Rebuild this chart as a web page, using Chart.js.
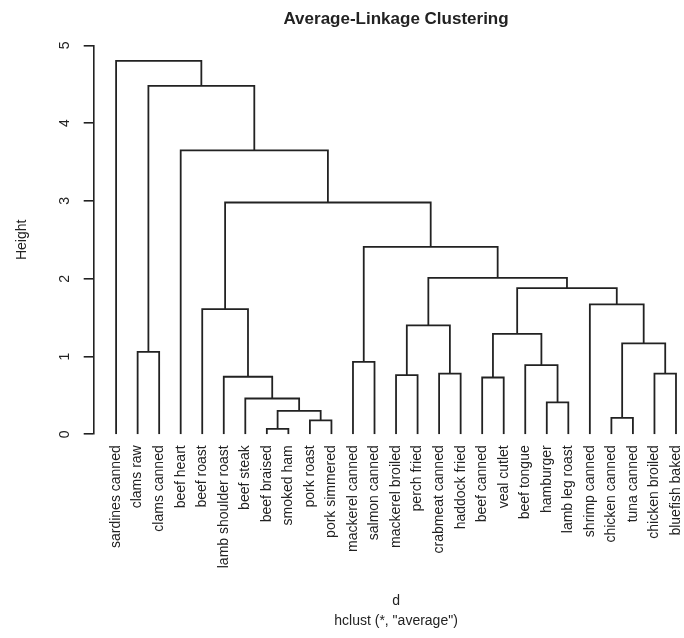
<!DOCTYPE html>
<html>
<head>
<meta charset="utf-8">
<script src="https://cdn.jsdelivr.net/npm/chart.js@4"></script>
<style>
  html, body { margin: 0; padding: 0; overflow: hidden; background: #fff; }
</style>
</head>
<body>
<canvas id="dendro" width="704" height="638"></canvas>
<script>
// leaves, left to right as they hang in the tree
const leaves = [
  "sardines canned", "clams raw", "clams canned", "beef heart", "beef roast",
  "lamb shoulder roast", "beef steak", "beef braised", "smoked ham", "pork roast",
  "pork simmered", "mackerel canned", "salmon canned", "mackerel broiled", "perch fried",
  "crabmeat canned", "haddock fried", "beef canned", "veal cutlet", "beef tongue",
  "hamburger", "lamb leg roast", "shrimp canned", "chicken canned", "tuna canned",
  "chicken broiled", "bluefish baked"
];

// merge steps like R's hclust: negative = leaf number, positive = earlier step
const merges = [
  [-8, -9], [-10, -11], [-24, -25], [1, 2], [-21, -22], [-7, 4], [-18, -19],
  [-6, 6], [-14, -15], [-16, -17], [-26, -27], [-20, 5], [-12, -13], [-2, -3],
  [3, 11], [7, 12], [9, 10], [-5, 8], [-23, 15], [16, 19], [17, 20], [13, 21],
  [18, 22], [-4, 23], [14, 24], [-1, 25]
];
const heights = [
  0.07, 0.18, 0.21, 0.30, 0.41, 0.46, 0.73, 0.74, 0.76, 0.78, 0.78, 0.89, 0.93,
  1.06, 1.17, 1.29, 1.40, 1.61, 1.67, 1.88, 2.01, 2.41, 2.98, 3.65, 4.48, 4.80
];
const yTicks = [0, 1, 2, 3, 4, 5];

// build the bracket paths from the merge table
const mergeX = [];
const segments = [];
merges.forEach(([a, b], i) => {
  const xa = a < 0 ? -a - 1 : mergeX[a - 1];
  const xb = b < 0 ? -b - 1 : mergeX[b - 1];
  const ha = a < 0 ? 0 : heights[a - 1];
  const hb = b < 0 ? 0 : heights[b - 1];
  const h = heights[i];
  segments.push({x: xa, y: ha}, {x: xa, y: h}, {x: xb, y: h}, {x: xb, y: hb}, {x: xb, y: null});
  mergeX.push((xa + xb) / 2);
});

Chart.defaults.font.family = "'Liberation Sans', Arial, sans-serif";
Chart.defaults.color = "#000";

const ctx = document.getElementById("dendro");

new Chart(ctx, {
  type: "line",
  data: {
    datasets: [{
      data: segments,
      borderColor: "#222",
      borderWidth: 1.8,
      pointRadius: 0,
      spanGaps: false,
      tension: 0,
      fill: false
    }]
  },
  options: {
    responsive: false,
    animation: false,
    layout: { padding: { top: 0, right: 1, bottom: 0, left: 0 } },
    plugins: {
      legend: { display: false },
      tooltip: { enabled: false },
      title: {
        display: true,
        fullSize: false,
        text: "Average-Linkage Clustering",
        color: "#222",
        font: { size: 17, weight: "bold" },
        padding: { top: 9, bottom: 16 }
      }
    },
    scales: {
      x: {
        type: "linear",
        min: -1.04,
        max: leaves.length - 1 + 1.04,
        grid: { display: false, drawTicks: false },
        border: { display: false },
        afterBuildTicks: (s) => { s.ticks = leaves.map((_, i) => ({ value: i })); },
        afterFit: (s) => { s.height = 203.7; },
        ticks: {
          autoSkip: false,
          minRotation: 90,
          maxRotation: 90,
          padding: 11,
          color: "#222",
          font: { size: 14 },
          callback: (v) => leaves[v]
        },
        title: {
          display: true,
          text: ["d", 'hclust (*, "average")'],
          color: "#222",
          font: { size: 14, lineHeight: "20px" },
          padding: { top: 0, bottom: 7 }
        }
      },
      y: {
        min: 0,
        max: 5,
        afterBuildTicks: (s) => { s.ticks = yTicks.map((v) => ({ value: v })); },
        afterFit: (s) => { s.width = 93.7; },
        grid: { drawOnChartArea: false, drawTicks: true, tickLength: 10, color: "#222", lineWidth: 1.6 },
        border: { display: true, color: "#222", width: 1.6 },
        ticks: {
          minRotation: 90,
          maxRotation: 90,
          crossAlign: "center",
          padding: 15,
          color: "#222",
          font: { size: 14 }
        },
        title: {
          display: true,
          text: "Height",
          color: "#222",
          font: { size: 14 },
          padding: { top: 14 }
        }
      }
    }
  }
});
</script>
</body>
</html>
